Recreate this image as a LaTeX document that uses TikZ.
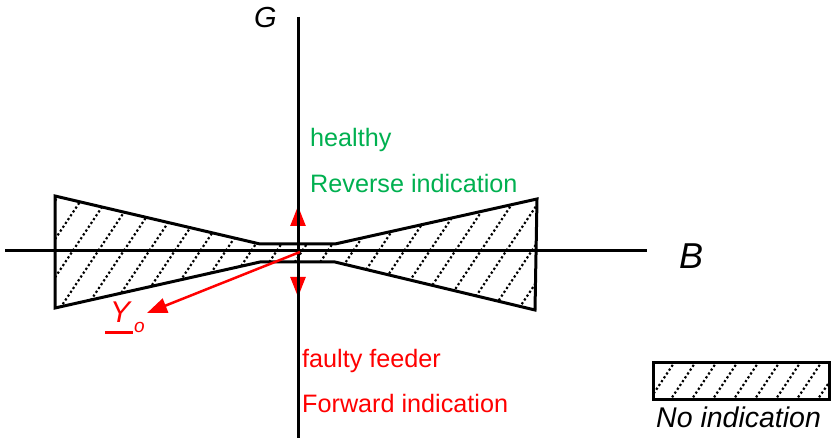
\documentclass[tikz,border=0pt]{standalone}
\usepackage{fontspec}
\setmainfont{Liberation Sans}
\usetikzlibrary{arrows.meta}
\definecolor{hgreen}{RGB}{0,176,80}
\definecolor{fred}{RGB}{255,0,0}
\tikzset{
  axisline/.style={line width=3pt, black},
  outline/.style={line width=3pt, black, line join=miter},
  hatchline/.style={line width=2.2pt, black, dash pattern=on 2.2pt off 2.4pt},
  redarrow/.style={line width=2.5pt, fred, -{Triangle[length=20pt,width=15pt]}},
  lbl/.style={inner sep=0pt, anchor=base west},
  greentxt/.style={lbl, text=hgreen, font=\fontsize{25.2}{30}\selectfont},
  redtxt/.style={lbl, text=fred, font=\fontsize{25.2}{30}\selectfont},
}
\begin{document}
\begin{tikzpicture}[x=1pt,y=-1pt]
\useasboundingbox (0,0) rectangle (833,438);
% hatched region
\begin{scope}
  \clip (55,196) -- (260,244) -- (335,244) -- (537,199) -- (535,310) -- (335,262) -- (260,262) -- (55,308) -- cycle;
  \foreach \x in {21,46.5,...,560} {
    \draw[hatchline] (\x-45,319.5) -- (\x+45,184.5);
  }
\end{scope}
\draw[outline] (55,196) -- (260,244) -- (335,244) -- (537,199) -- (535,310) -- (335,262) -- (260,262) -- (55,308) -- cycle;
% legend box
\begin{scope}
  \clip (653,363) rectangle (829,399);
  \foreach \x in {620,641,...,860} {
    \draw[hatchline] (\x-16,405) -- (\x+16,357);
  }
\end{scope}
\draw[outline] (653,363) rectangle (829,399);
\node[lbl, font=\fontsize{28.5}{34}\selectfont\itshape] (noind) at (656,427) {No indication};
% coordinates
\coordinate (O) at (298,252);
\coordinate (Oy) at (300,252);
\coordinate (up) at (298,206);
\coordinate (down) at (298,297);
\coordinate (ytip) at (147,313);
\coordinate (gtop) at (298,17);
\coordinate (gbot) at (298,438);
\coordinate (bleft) at (5,251);
\coordinate (bright) at (647,251);
% red arrows
\draw[redarrow] (O) -- (up);
\draw[redarrow] (O) -- (down);
% axes
\draw[axisline] (gtop) -- (gbot);
\draw[axisline] (bleft) -- (bright);
\draw[redarrow] (Oy) -- (ytip);
% labels
\node[lbl, font=\fontsize{29}{34}\selectfont\itshape] (G) at (254,28) {G};
\node[lbl, font=\fontsize{36}{42}\selectfont\itshape] (B) at (679,269) {B};
\node[greentxt] (healthy) at (310,147) {healthy};
\node[greentxt] (rev) at (310,193) {Reverse indication};
\node[redtxt] (faulty) at (302,367) {faulty feeder};
\node[redtxt] (fwd) at (302,413) {Forward indication};
% Y_o
\node[lbl, text=fred, font=\fontsize{30}{36}\selectfont\itshape] (Y) at (110,323) {Y};
\node[lbl, text=fred, font=\fontsize{19}{23}\selectfont\itshape] (yo) at (134,333) {o};
\draw[fred, line width=3pt] (105,333) -- (133,333);
\end{tikzpicture}
\end{document}
